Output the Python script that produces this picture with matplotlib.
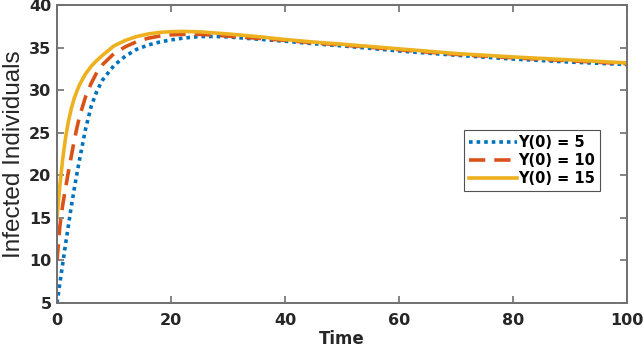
import matplotlib
matplotlib.use("Agg")
import matplotlib.pyplot as plt

# Time points and readings for each initial condition
t_vals = [0, 0.5, 1, 1.5, 2, 2.5, 3, 3.5, 4, 5, 6, 7, 8, 10, 12, 14, 16, 18, 20, 22,
          25, 28, 30, 35, 40, 45, 50, 60, 70, 80, 90, 100]
y5 = [5, 7.3, 9.6, 11.9, 14.1, 16.3, 18.3, 20.2, 22.0, 25.4, 28.1, 29.9, 31.2, 32.9,
      34.0, 34.8, 35.3, 35.65, 35.9, 36.1, 36.3, 36.3, 36.25, 36.0, 35.75, 35.45, 35.2,
      34.6, 34.1, 33.65, 33.3, 33.0]
y10 = [10, 14.0, 16.5, 18.5, 20.4, 22.2, 24.0, 25.6, 27.0, 29.2, 30.8, 32.1, 33.0, 34.3,
       35.1, 35.7, 36.1, 36.35, 36.5, 36.55, 36.55, 36.45, 36.35, 36.1, 35.85, 35.55, 35.3,
       34.75, 34.2, 33.8, 33.45, 33.1]
y15 = [15, 18.8, 21.9, 24.4, 26.3, 27.8, 29.0, 29.9, 30.7, 31.9, 32.8, 33.5, 34.1, 35.2,
       35.85, 36.3, 36.6, 36.78, 36.87, 36.9, 36.85, 36.7, 36.6, 36.3, 35.95, 35.65, 35.4,
       34.85, 34.3, 33.9, 33.55, 33.2]
labels = ["Y(0) = 5", "Y(0) = 10", "Y(0) = 15"]
x_ticks = [0, 20, 40, 60, 80, 100]
y_ticks = [5, 10, 15, 20, 25, 30, 35, 40]

fig = plt.figure(figsize=(6.44, 3.5), dpi=100)
ax = fig.add_axes([0.0885, 0.1343, 0.8851, 0.8514])

ax.plot(t_vals, y5, color="#0072BD", lw=2.6, linestyle=(0, (1, 1.1)), label=labels[0])
ax.plot(t_vals, y10, color="#D95319", lw=2.6, linestyle=(0, (4.5, 2.5)), label=labels[1])
ax.plot(t_vals, y15, color="#EDB120", lw=2.6, linestyle="-", label=labels[2])

ax.set_xlim(0, 100)
ax.set_ylim(5, 40)
ax.set_xticks(x_ticks)
ax.set_yticks(y_ticks)
for sp in ax.spines.values():
    sp.set_color("#707070")
    sp.set_linewidth(1.4)
ax.tick_params(direction="in", top=True, right=True, length=5, width=1.2,
               colors="#707070", labelcolor="#262626", labelsize=11.5)
ax.tick_params(axis="y", pad=4)
ax.tick_params(axis="x", pad=7)
for lab in ax.get_xticklabels() + ax.get_yticklabels():
    lab.set_fontweight("bold")

ax.set_xlabel("Time", fontsize=12, fontweight="bold", color="#262626", labelpad=2)
ax.set_ylabel("Infected Individuals", fontsize=17.5, family="Liberation Sans",
              color="#262626", labelpad=3)

leg = ax.legend(loc="upper left", bbox_to_anchor=(0.714, 0.581),
                prop={"weight": "bold", "size": 10.5}, handlelength=3.3,
                handletextpad=0.05, borderpad=0.35, labelspacing=0.2,
                fancybox=False, frameon=True, borderaxespad=0)
leg.get_frame().set_edgecolor("#262626")
leg.get_frame().set_linewidth(0.8)

fig.savefig("out.png", dpi=100)
